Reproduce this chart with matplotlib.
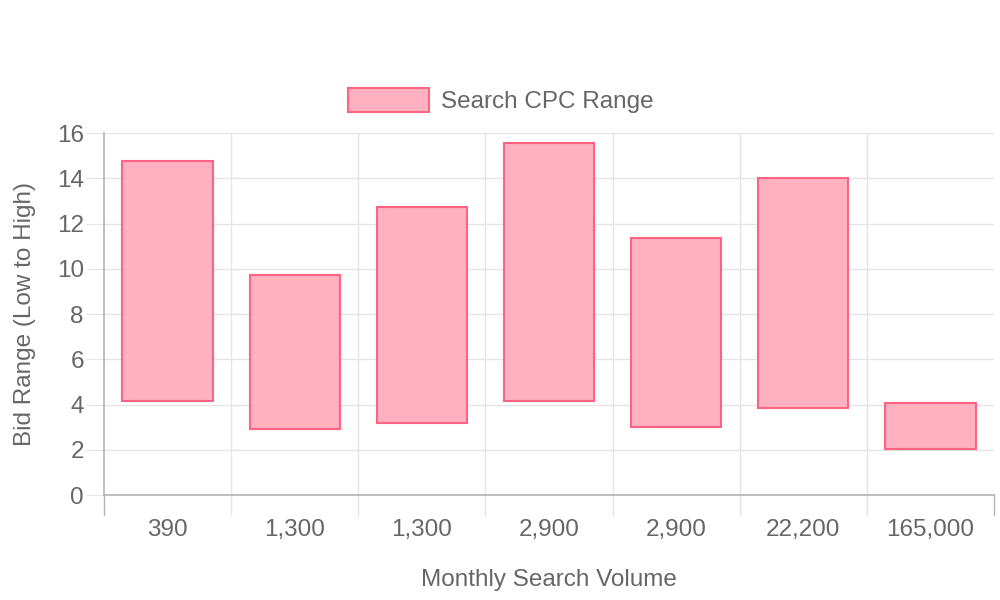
import matplotlib.pyplot as plt
from matplotlib.patches import Patch

plt.rcParams['font.family'] = ['Liberation Sans', 'DejaVu Sans']

# monthly search volume (category labels) and CPC bid range
volumes = ["390", "1,300", "1,300", "2,900", "2,900", "22,200", "165,000"]
bid_low = [4.15, 2.92, 3.18, 4.15, 3.0, 3.85, 2.03]
bid_high = [14.76, 9.72, 12.73, 15.56, 11.36, 14.01, 4.08]

fill = '#FFB1C1'
edge = '#FF6384'
txt = '#666666'
grid_c = '#e5e5e5'
axis_c = '#b3b3b3'
fs = 17.5

fig = plt.figure(figsize=(10, 6), dpi=100)
ax = fig.add_axes([0.104, 0.175, 0.89, 0.603])

x = list(range(len(volumes)))
heights = [h - l for l, h in zip(bid_low, bid_high)]
ax.bar(x, heights, bottom=bid_low, width=0.71, color=fill,
       edgecolor=edge, linewidth=1.5, zorder=3)

ax.set_xlim(-0.5, len(volumes) - 0.5)
ax.set_ylim(0, 16)
ax.set_yticks(range(0, 17, 2))
ax.set_xticks(x)
ax.set_xticklabels(volumes)

# grid lines between categories (offset grid like chart.js)
for b in [i + 0.5 for i in x[:-1]]:
    ax.axvline(b, color=grid_c, linewidth=1, zorder=0)
for yv in range(2, 17, 2):
    ax.axhline(yv, color=grid_c, linewidth=1, zorder=0)

for s in ['top', 'right']:
    ax.spines[s].set_visible(False)
for s in ['left', 'bottom']:
    ax.spines[s].set_color(axis_c)
    ax.spines[s].set_linewidth(1.2)

ax.tick_params(axis='y', length=13, color=grid_c, labelcolor=txt,
               labelsize=fs, pad=1.5)
ax.tick_params(axis='x', length=0, labelcolor=txt, labelsize=fs, pad=17.5)

# x tick marks at category boundaries below the axis
for b in [i - 0.5 for i in range(len(volumes) + 1)]:
    ax.plot([b, b], [0, -0.88], color=grid_c if 0 < b < len(volumes) - 1 else axis_c,
            linewidth=1, clip_on=False, zorder=1)

ax.set_xlabel("Monthly Search Volume", color=txt, fontsize=fs, labelpad=20)
ax.set_ylabel("Bid Range (Low to High)", color=txt, fontsize=fs, labelpad=15)

leg = ax.legend(handles=[Patch(facecolor=fill, edgecolor=edge, linewidth=1.5,
                               label="Search CPC Range")],
                loc='lower center', bbox_to_anchor=(0.446, 0.995), frameon=False,
                handlelength=3.3, handleheight=1.1, handletextpad=0.5,
                fontsize=fs, labelcolor=txt)

fig.savefig("out.png", dpi=100)
